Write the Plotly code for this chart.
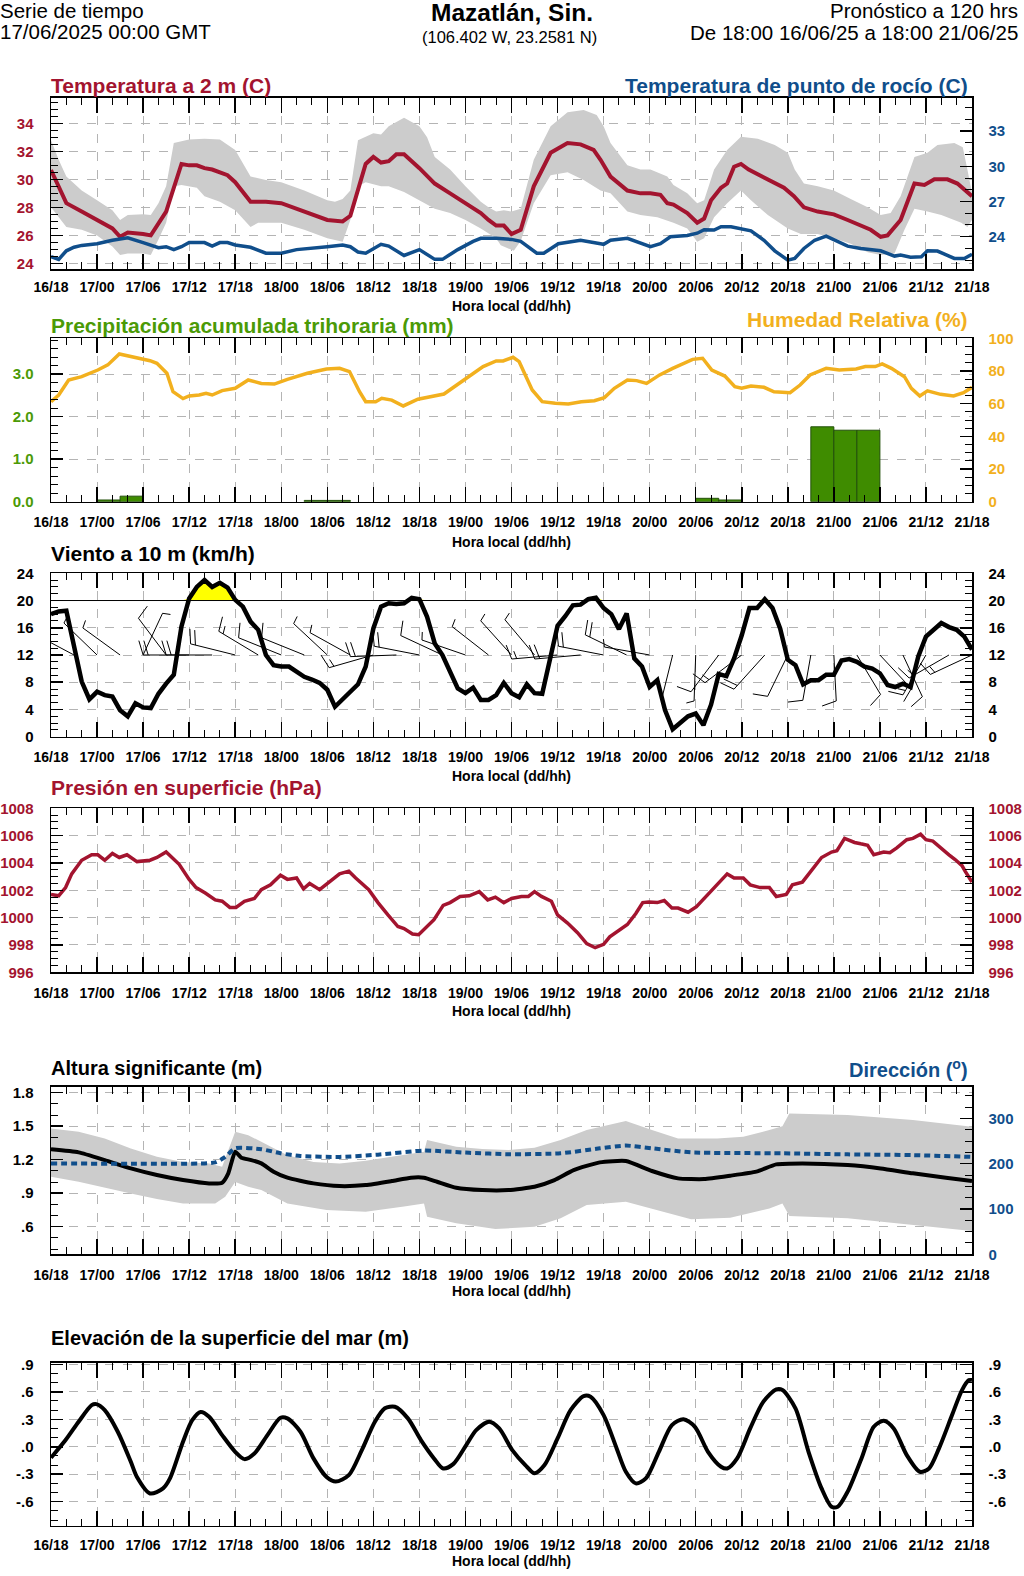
import numpy as np
import plotly.graph_objects as go

# ---------------- data ----------------
x_tick_hours = list(range(0, 121, 6))
x_tick_labels = ["16/18", "17/00", "17/06", "17/12", "17/18", "18/00", "18/06", "18/12", "18/18",
                 "19/00", "19/06", "19/12", "19/18", "20/00", "20/06", "20/12", "20/18",
                 "21/00", "21/06", "21/12", "21/18"]

# Temperature (C), hours since 16/18
temp_hours = [0, 2, 4, 6, 8, 9, 10, 12, 13, 15, 16, 17, 18, 19, 20, 21, 23, 24, 26, 28, 30, 36, 38, 39,
              41, 42, 43, 44, 45, 46, 48, 50, 52, 54, 56, 57, 58, 59, 60, 61.2, 62.9, 65.1, 67.3, 69,
              70.7, 71.6, 72.9, 75.1, 76.8, 78.1, 79.4, 80.3, 81.1, 82.9, 84.2, 85.1, 86, 87.3, 88.1,
              89, 89.9, 90.9, 92.9, 95.5, 96.8, 98.1, 99.9, 102, 103.8, 105.5, 106.8, 108.1, 109,
              110.7, 112.5, 113.8, 115.1, 116.8, 118.1, 120]
temp_vals = [30.67, 28.3, 27.7, 27.1, 26.5, 25.9, 26.2, 26.1, 26.0, 27.7, 29.5, 31.1, 31.0, 31.0, 30.8,
             30.7, 30.3, 29.8, 28.4, 28.4, 28.3, 27.1, 27.0, 27.4, 31.1, 31.6, 31.2, 31.3, 31.8, 31.8,
             30.8, 29.7, 29.0, 28.3, 27.6, 27.1, 26.7, 26.7, 26.1, 26.4, 29.5, 31.9, 32.6, 32.5, 32.1,
             31.4, 30.2, 29.2, 29.0, 29.0, 28.9, 28.3, 28.2, 27.6, 26.9, 27.2, 28.5, 29.4, 29.7, 30.9,
             31.1, 30.7, 30.1, 29.4, 28.8, 28.0, 27.7, 27.5, 27.1, 26.7, 26.4, 25.9, 26.0, 27.1, 29.7,
             29.6, 30.0, 30.0, 29.7, 28.8]

temp_up_hours = [0, 1, 2, 4, 6, 8, 9, 10, 12, 13, 14, 15, 16, 17, 18, 20, 22, 24, 26, 28, 30, 33, 36, 37,
                 38, 39, 40, 42, 43, 44, 46, 48, 49, 50, 52, 54, 56, 57, 58, 59, 60, 61.2, 62.9, 65.1,
                 67.3, 69.4, 71.1, 72, 72.9, 75.1, 76.8, 78.1, 80.3, 81.1, 82.9, 84.2, 85.1, 86.4, 88.1,
                 89.9, 92.1, 94.3, 96, 96.9, 98.1, 99.9, 102, 104.2, 106.4, 108.1, 109.4, 110.7, 112.5,
                 114.2, 115.5, 117.7, 118.8, 119.4, 120]
temp_up_vals = [32.8, 31.4, 30.2, 29.2, 28.5, 27.8, 27.1, 27.45, 27.5, 27.45, 28.3, 29.5, 32.6, 32.7,
                32.85, 32.9, 32.85, 32.1, 30.2, 29.95, 29.8, 29.2, 28.5, 28.4, 28.6, 29.2, 32.8, 33.3,
                33.2, 33.8, 34.4, 33.8, 33.0, 31.6, 30.7, 29.5, 28.4, 28.0, 27.7, 27.8, 27.7, 27.9, 31.4,
                33.8, 34.8, 34.95, 34.6, 33.8, 32.6, 31.0, 30.7, 30.7, 30.2, 29.6, 29.0, 28.3, 28.5, 30.7,
                32.1, 33.05, 32.9, 32.45, 31.9, 30.7, 29.7, 29.5, 29.2, 28.6, 28.0, 27.45, 27.6, 28.8,
                31.6, 31.9, 32.45, 32.6, 32.3, 30.7, 29.0]
temp_lo_hours = [0, 1, 2, 4, 6, 8, 9, 10, 12, 13, 14, 15, 16, 17, 19, 20, 22, 24, 26, 27, 30, 33, 36, 38,
                 39, 40, 41, 43, 44, 46, 48, 50, 52, 54, 56, 58, 58.6, 60.3, 61.2, 62.9, 65.1, 67.3,
                 69.4, 71.6, 72.9, 75.1, 76.8, 79, 81.1, 82.9, 84.2, 85.1, 86.4, 88.1, 89.9, 91.2, 93.4,
                 96, 97.7, 99.9, 102, 104.2, 106.4, 108.1, 109.9, 111.2, 112.5, 114.2, 116, 118.6, 119.4,
                 120]
temp_lo_vals = [28.0, 27.3, 26.6, 26.4, 26.0, 25.2, 24.6, 24.7, 24.7, 24.6, 25.7, 26.9, 29.5, 29.6, 29.4,
                28.8, 28.4, 27.8, 26.6, 26.9, 26.9, 26.4, 25.8, 25.55, 27.1, 29.5, 29.8, 29.5, 29.5, 29.1,
                28.5, 27.9, 27.6, 27.1, 26.5, 25.8, 25.3, 24.9, 25.6, 28.3, 30.3, 30.5, 29.95, 29.2, 29.0,
                27.7, 27.45, 27.3, 26.9, 26.5, 25.55, 25.8, 27.3, 28.3, 29.2, 28.5, 27.45, 26.5, 26.1,
                26.1, 25.8, 25.4, 24.8, 24.6, 24.7, 26.4, 27.9, 27.7, 27.45, 26.9, 26.6, 27.1]

# Dew point (C), right axis
dew_hours = [0, 1, 2, 3, 4, 6, 8, 10, 12, 14, 15, 16, 17, 18, 20, 21, 22, 23, 24, 26, 28, 30, 32, 34, 36,
             38, 39, 40, 41, 43, 44, 46, 48, 50, 51, 53, 55, 56, 58, 60, 61.2, 63.3, 64.2, 66.1, 69,
             71.6, 72, 72.9, 75.1, 78.1, 79.4, 80.7, 82.9, 84.2, 85.1, 86.4, 87.3, 88.6, 89.9, 91.2,
             92.9, 94.3, 96, 96.9, 98.1, 99.5, 101, 102.5, 103.8, 105.5, 108.1, 109.9, 110.7, 112,
             113.4, 114.2, 115.5, 117.7, 119, 120]
dew_vals = [22.3, 22.07, 22.8, 23.1, 23.26, 23.4, 23.7, 23.9, 23.5, 23.06, 23.15, 22.9, 23.15, 23.5, 23.5,
            23.2, 23.5, 23.5, 23.3, 23.1, 22.6, 22.6, 22.9, 23.0, 23.15, 23.3, 23.15, 22.7, 22.6, 23.35,
            23.2, 22.4, 22.9, 22.07, 22.07, 22.9, 23.6, 23.86, 23.86, 23.77, 23.6, 22.6, 22.6, 23.4, 23.7,
            23.4, 23.35, 23.7, 23.86, 23.15, 23.4, 24.0, 24.1, 24.3, 24.6, 24.57, 24.85, 24.85, 24.7,
            24.5, 23.7, 22.8, 22.0, 22.15, 23.0, 23.7, 24.05, 23.6, 23.2, 23.0, 22.8, 22.35, 22.44,
            22.25, 22.3, 22.8, 22.78, 22.15, 22.15, 22.5]

# Relative humidity (%)
rh_hours = [0, 1.0, 2.3, 4.0, 6.1, 7.4, 8.9, 10.4, 12.9, 13.8, 15.1, 15.9, 17.2, 18.0, 19.3, 20.2, 21.0,
            22.3, 24.0, 25.7, 27.4, 29.1, 30.8, 33.4, 35.9, 37.6, 38.9, 40.2, 41.0, 42.3, 43.1, 44.4,
            45.9, 47.8, 49.5, 51.2, 53.8, 56.3, 58.0, 58.9, 60.2, 61.0, 61.9, 62.7, 64.0, 65.7, 67.4,
            69.1, 70.8, 72.1, 73.4, 75.1, 76.3, 77.6, 79.3, 81.0, 83.6, 84.9, 86.1, 87.8, 89.1, 90.0,
            91.2, 92.9, 94.2, 96.3, 97.6, 98.9, 101.0, 102.7, 104.9, 106.1, 107.4, 108.3, 109.5, 111.2,
            112.1, 113.2, 114.2, 115.9, 117.6, 118.9, 120]
rh_vals = [61.2, 65.3, 74.5, 76.5, 80.6, 83.7, 90.4, 88.8, 86.3, 84.7, 78.6, 67.3, 63.1, 64.7, 65.3, 66.3,
           65.3, 68.0, 69.4, 74.5, 72.4, 72.0, 74.9, 78.6, 81.2, 81.6, 79.6, 67.3, 61.2, 61.2, 63.3, 62.2,
           58.6, 62.7, 64.3, 65.9, 74.5, 82.7, 86.1, 86.1, 88.4, 85.7, 76.5, 68.4, 61.2, 60.2, 59.8, 61.2,
           61.8, 63.7, 69.4, 74.5, 74.1, 72.4, 77.6, 81.6, 87.1, 87.8, 80.6, 76.9, 70.4, 69.4, 70.8, 70.0,
           67.3, 66.7, 71.4, 77.6, 81.6, 80.6, 81.2, 82.7, 82.7, 84.3, 81.6, 76.5, 69.4, 64.7, 67.8, 65.7,
           64.7, 66.7, 70.0]

# 3-hourly accumulated precipitation (mm), bin centres
precip_hours = [7.5, 10.5, 34.5, 37.5, 85.5, 88.5, 100.5, 103.5, 106.5]
precip_vals = [0.04, 0.13, 0.03, 0.03, 0.08, 0.04, 1.76, 1.68, 1.68]

# Wind speed (km/h), hourly
wind_hours = list(range(0, 121))
wind_vals = [18.0, 18.4, 18.5, 13.2, 8.1, 5.5, 6.6, 6.1, 5.9, 3.9, 3.0, 4.9, 4.3, 4.2, 6.3, 7.8, 9.1, 16.2,
             20.3, 22.0, 23.0, 22.0, 22.6, 21.9, 20.1, 19.1, 16.9, 15.7, 12.0, 10.5, 10.3, 10.3, 9.5, 8.8,
             8.4, 7.9, 6.9, 4.4, 5.5, 6.6, 7.7, 10.3, 15.9, 19.1, 19.6, 19.5, 19.6, 20.4, 20.2, 17.6, 13.7,
             12.0, 9.5, 7.1, 6.4, 7.2, 5.4, 5.4, 6.1, 7.9, 6.4, 5.8, 7.7, 6.4, 6.3, 11.5, 16.3, 17.7, 19.3,
             19.4, 20.2, 20.4, 18.9, 18.0, 15.8, 18.1, 11.5, 10.3, 7.3, 8.3, 3.9, 1.1, 2.1, 3.0, 3.4, 1.7,
             4.7, 9.2, 8.9, 11.5, 14.9, 18.9, 18.9, 20.2, 18.9, 15.9, 11.3, 10.5, 7.7, 8.3, 8.3, 9.1, 9.1,
             11.2, 11.4, 11.0, 10.3, 10.0, 9.3, 7.6, 7.3, 7.8, 7.3, 11.8, 14.7, 15.8, 16.7, 16.1, 15.7,
             14.7, 12.8]
# Wind direction (deg, from) for the 3-hourly barbs
barb_hours = list(range(0, 121, 3))
barb_dirs = [300, 298, 314, 306, 25, 323, 270, 270, 284, 301, 292, 292, 313, 299, 254, 268, 281, 295,
             289, 308, 318, 320, 265, 265, 281, 296, 280, 194, 182, 217, 233, 222, 206, 190, 177, 149,
             137, 155, 210, 240, 245]

# Surface pressure (hPa)
pres_hours = [0, 1, 1.9, 2.7, 4, 5.3, 6.1, 7, 8, 8.9, 9.9, 11.2, 12.9, 13.8, 15, 16.7, 18, 18.9, 20.1,
              21.4, 22.3, 23.3, 24.1, 25.2, 26.5, 27.4, 28.6, 29.9, 30.8, 32, 32.9, 33.7, 35, 36.3, 37.6,
              38.8, 39.7, 41.4, 42.6, 43.9, 45.2, 46, 47.1, 47.9, 49, 49.9, 51.1, 52, 53.3, 54.5, 55.8,
              56.9, 57.9, 59, 60, 61.3, 62.2, 63, 63.9, 65.2, 66, 67.3, 68.6, 69.8, 70.9, 72, 72.8, 74.1,
              75.1, 76.2, 77.1, 77.9, 79, 79.9, 80.9, 81.7, 83, 84.1, 85.1, 86.8, 88.1, 89, 90.2, 91.1,
              92.4, 93.6, 94.5, 95.8, 96.6, 97.9, 99.2, 100.4, 101.7, 102.4, 103.4, 104.7, 105.5, 106.4,
              107.2, 108.5, 109.3, 110.2, 111.5, 112.3, 113.3, 114, 114.9, 116.1, 117, 117.8, 118.7,
              119.1, 120]
pres_vals = [1001.7, 1001.6, 1002.2, 1003.2, 1004.2, 1004.6, 1004.6, 1004.2, 1004.7, 1004.4, 1004.6,
             1004.1, 1004.2, 1004.4, 1004.8, 1003.9, 1002.8, 1002.2, 1001.8, 1001.3, 1001.2, 1000.75,
             1000.75, 1001.2, 1001.4, 1002.05, 1002.4, 1003.1, 1002.8, 1002.9, 1002.1, 1002.5, 1002.05,
             1002.6, 1003.2, 1003.4, 1002.9, 1002.05, 1001.1, 1000.2, 999.35, 999.2, 998.8, 998.75, 999.35,
             999.85, 1000.9, 1001.1, 1001.55, 1001.6, 1001.9, 1001.3, 1001.5, 1001.1, 1001.4, 1001.55,
             1001.55, 1001.9, 1001.55, 1001.2, 1000.2, 999.6, 998.9, 998.1, 997.8, 998.05, 998.6, 999.1,
             999.5, 1000.3, 1001.1, 1001.15, 1001.1, 1001.25, 1000.7, 1000.7, 1000.4, 1000.8, 1001.4,
             1002.4, 1003.2, 1002.9, 1002.9, 1002.4, 1002.2, 1002.2, 1001.55, 1001.7, 1002.4, 1002.6,
             1003.5, 1004.4, 1004.8, 1004.9, 1005.8, 1005.5, 1005.4, 1005.3, 1004.6, 1004.8, 1004.75,
             1005.1, 1005.7, 1005.8, 1006.1, 1005.7, 1005.6, 1005.0, 1004.6, 1004.25, 1003.8, 1003.4,
             1002.6]

# Significant wave height (m) and envelope
wave_hours = [0, 3.6, 7, 10.4, 13.8, 17.2, 20.6, 22.3, 23.1, 24, 24.8, 26.1, 27.4, 29, 30.8, 34.2, 37.6,
              41, 44.4, 46.9, 48.6, 50.3, 52.8, 56.2, 59.6, 63, 65.6, 68.1, 71.5, 74.9, 78.3, 81.7, 85.1,
              88.5, 91.9, 94.5, 97.9, 103.8, 108.1, 112.3, 116.6, 120]
wave_vals = [1.293, 1.266, 1.197, 1.122, 1.063, 1.018, 0.988, 0.994, 1.078, 1.272, 1.218, 1.197, 1.167,
             1.093, 1.039, 0.988, 0.964, 0.973, 1.009, 1.039, 1.039, 1.003, 0.949, 0.928, 0.928, 0.958,
             1.018, 1.107, 1.176, 1.188, 1.099, 1.033, 1.027, 1.057, 1.093, 1.158, 1.167, 1.152, 1.122,
             1.078, 1.039, 1.009]
wave_up_hours = [0, 3.6, 7, 10.4, 13.8, 17.2, 20.6, 22.3, 24, 25.7, 27.4, 30.8, 34.2, 37.6, 41, 46, 48.6,
                 49, 52.8, 56.2, 59.6, 63, 66.4, 69.8, 74.9, 78.3, 81.7, 86.8, 90.2, 93.6, 95.3, 96.2,
                 103.8, 112.3, 120]
wave_up_vals = [1.48, 1.45, 1.39, 1.30, 1.227, 1.18, 1.167, 1.137, 1.45, 1.42, 1.36, 1.24, 1.18, 1.167,
                1.19, 1.24, 1.272, 1.376, 1.316, 1.295, 1.286, 1.307, 1.376, 1.466, 1.546, 1.466, 1.39,
                1.39, 1.406, 1.466, 1.5, 1.615, 1.6, 1.555, 1.495]
wave_lo_hours = [0, 3.6, 7, 10.4, 13.8, 17.2, 21.4, 22.7, 24, 25.7, 27.4, 30.8, 35.9, 41, 46, 48.6, 49,
                 52.8, 57.9, 63, 66.4, 69.8, 74.9, 78.3, 83.4, 88.5, 93.6, 95.3, 96.2, 103.8, 112.3, 120]
wave_lo_vals = [1.048, 1.003, 0.95, 0.898, 0.848, 0.809, 0.809, 0.869, 1.0, 0.958, 0.928, 0.809, 0.75,
                0.734, 0.78, 0.809, 0.69, 0.63, 0.579, 0.6, 0.675, 0.794, 0.824, 0.764, 0.666, 0.68,
                0.764, 0.809, 0.695, 0.675, 0.615, 0.561]
# Wave direction (deg)
wdir_hours = [0, 10.4, 21.4, 22.7, 24, 27.4, 29.9, 32.5, 37.6, 42.6, 48.6, 54.5, 59.6, 66.4, 71.5, 74.9,
              78.3, 83.4, 95.3, 103.8, 112.3, 120]
wdir_vals = [200.7, 200, 203, 215, 234, 232, 223, 217, 215, 220, 229, 224, 221, 223, 234, 240, 234, 225,
             223, 220.6, 219, 215]

# Sea surface elevation (m)
sea_hours = [0, 1.9, 3.6, 5.3, 5.9, 7, 8.7, 10.4, 11.2, 12.9, 14.6, 15.5, 17.2, 18.4, 19.5, 20.6, 22.3,
             24, 25.2, 26.5, 28.2, 29.9, 30.8, 32.5, 34.2, 35.9, 37.1, 38.8, 40.5, 42.2, 43.5, 44.8, 46.5,
             48.2, 49.9, 51.1, 52.4, 54.1, 55.4, 57.1, 58.4, 60.1, 61.8, 63, 64.3, 66, 67.7, 69.4, 70.3,
             72, 73.7, 74.9, 76.2, 77.5, 79.2, 80.9, 82.4, 83.9, 85.6, 87.3, 88.1, 89.4, 91.1, 92.8,
             94.5, 95.3, 97, 98.7, 100.4, 101.7, 102.5, 103.8, 105.6, 107.2, 108.5, 109.8, 111.5, 113.2,
             114.4, 115.7, 117.4, 118.7, 119.6, 120]
sea_vals = [-0.12, 0.073, 0.273, 0.455, 0.466, 0.40, 0.164, -0.164, -0.33, -0.51, -0.455, -0.346, 0.055,
            0.29, 0.38, 0.328, 0.127, -0.055, -0.135, -0.073, 0.127, 0.317, 0.31, 0.164, -0.127, -0.33,
            -0.38, -0.31, -0.036, 0.273, 0.42, 0.437, 0.31, 0.073, -0.127, -0.237, -0.19, 0.018, 0.182,
            0.273, 0.2, -0.036, -0.2, -0.29, -0.2, 0.091, 0.40, 0.553, 0.546, 0.346, -0.018, -0.273,
            -0.4, -0.346, -0.055, 0.237, 0.3, 0.218, -0.055, -0.218, -0.237, -0.127, 0.2, 0.49, 0.626,
            0.619, 0.419, -0.055, -0.455, -0.655, -0.655, -0.49, -0.127, 0.218, 0.284, 0.2, -0.091,
            -0.273, -0.237, -0.018, 0.346, 0.619, 0.728, 0.728]

# Tick labels of the y axes
t1_left = ["24", "26", "28", "30", "32", "34"]
t1_right = ["24", "27", "30", "33"]
t2_left = ["0.0", "1.0", "2.0", "3.0"]
t2_right = ["0", "20", "40", "60", "80", "100"]
t3_labels = ["0", "4", "8", "12", "16", "20", "24"]
t4_labels = ["996", "998", "1000", "1002", "1004", "1006", "1008"]
t5_left = [".6", ".9", "1.2", "1.5", "1.8"]
t5_right = ["0", "100", "200", "300"]
t6_labels = ["-.6", "-.3", ".0", ".3", ".6", ".9"]

# ---------------- styling / layout ----------------
W, H = 1024, 1576
XL, XR = 51, 972
FONT = "Liberation Sans, Arial, Helvetica, sans-serif"
RED = "#a3142f"
BLUE = "#104e8b"
GREEN = "#4b9a06"
ORANGE = "#f2b01e"
GRAY = "#cccccc"

panels_px = [(97.7, 269), (338.3, 501.7), (573.3, 736.7), (808.3, 972.3), (1086.7, 1254.3), (1362.7, 1525.7)]
x_standoff = [5, 7, 7, 7, 7, 6]
hora_y = [306, 542, 776, 1011, 1291, 1561]


def py(y):
    return 1 - y / H


fig = go.Figure()


def ax(i):
    return "" if i == 1 else str(i)


left_specs = [
    ([23.6, 35.83], [24, 26, 28, 30, 32, 34], t1_left, np.arange(24, 35.8, 0.5), RED),
    ([0, 3.84], [0, 1, 2, 3], t2_left, np.arange(0, 3.85, 0.2), GREEN),
    ([0, 24], [0, 4, 8, 12, 16, 20, 24], t3_labels, np.arange(0, 24.1, 1), "black"),
    ([996, 1008], [996, 998, 1000, 1002, 1004, 1006, 1008], t4_labels, np.arange(996, 1008.1, 0.5), RED),
    ([0.353, 1.854], [0.6, 0.9, 1.2, 1.5, 1.8], t5_left, np.arange(0.4, 1.85, 0.1), "black"),
    ([-0.862, 0.918], [-0.6, -0.3, 0.0, 0.3, 0.6, 0.9], t6_labels, np.arange(-0.8, 0.91, 0.1), "black"),
]
right_specs = [
    ([21.25, 35.84], [24, 27, 30, 33], t1_right, np.arange(22, 35.9, 1), BLUE),
    ([0, 100], [0, 20, 40, 60, 80, 100], t2_right, np.arange(0, 101, 5), ORANGE),
    ([0, 24], [0, 4, 8, 12, 16, 20, 24], t3_labels, np.arange(0, 24.1, 1), "black"),
    ([996, 1008], [996, 998, 1000, 1002, 1004, 1006, 1008], t4_labels, np.arange(996, 1008.1, 0.5), RED),
    ([0, 370], [0, 100, 200, 300], t5_right, np.arange(0, 371, 25), BLUE),
    ([-0.862, 0.918], [-0.6, -0.3, 0.0, 0.3, 0.6, 0.9], t6_labels, np.arange(-0.8, 0.91, 0.1), "black"),
]

layout = {}
for i in range(1, 7):
    top, bot = panels_px[i - 1]
    dom_y = [py(bot), py(top)]
    fs = 15
    layout["xaxis" + ax(i)] = dict(
        domain=[XL / W, XR / W], anchor="y" + ax(i), range=[0, 120], automargin=False,
        tickmode="array", tickvals=x_tick_hours, ticktext=x_tick_labels,
        ticks="inside", ticklen=15, tickwidth=1.5, tickcolor="black",
        minor=dict(ticks="inside", ticklen=7, tickwidth=1, tickcolor="black",
                   tickmode="array", tickvals=list(range(0, 121, 2)), showgrid=False),
        showline=True, linecolor="black", linewidth=1.5, mirror="ticks",
        showgrid=True, gridcolor="#b4b4b4", griddash="dash", gridwidth=1, zeroline=False,
        tickfont=dict(family=FONT, size=14, color="black", weight="bold"),
        ticklabelstandoff=x_standoff[i - 1],
    )
    rng, tv, tt, mv, col = left_specs[i - 1]
    layout["yaxis" + ax(i)] = dict(
        domain=dom_y, anchor="x" + ax(i), range=rng, tickmode="array", tickvals=tv, ticktext=tt,
        automargin=False,
        ticks="inside", ticklen=12, tickwidth=1.5, tickcolor="black",
        minor=dict(ticks="inside", ticklen=7, tickwidth=1, tickcolor="black",
                   tickmode="array", tickvals=list(mv), showgrid=False),
        showline=True, linecolor="black", linewidth=1.5, mirror=False,
        showgrid=True, gridcolor="#b4b4b4", griddash="dash", gridwidth=1, zeroline=False,
        tickfont=dict(family=FONT, size=fs, color=col, weight="bold"),
        ticklabelstandoff=13,
    )
    rng, tv, tt, mv, col = right_specs[i - 1]
    layout["yaxis" + str(i + 6)] = dict(
        overlaying="y" + ax(i), side="right", anchor="x" + ax(i), range=rng, automargin=False,
        tickmode="array", tickvals=tv, ticktext=tt,
        ticks="inside", ticklen=12, tickwidth=1.5, tickcolor="black",
        minor=dict(ticks="inside", ticklen=7, tickwidth=1, tickcolor="black",
                   tickmode="array", tickvals=list(mv), showgrid=False),
        showline=True, linecolor="black", linewidth=1.5, showgrid=False, zeroline=False,
        tickfont=dict(family=FONT, size=fs, color=col, weight="bold"),
        ticklabelstandoff=12,
    )


# ---------------- traces ----------------
def S(**kw):
    kw.setdefault("showlegend", False)
    kw.setdefault("hoverinfo", "skip")
    return go.Scatter(**kw)


# Panel 1
fig.add_trace(S(x=temp_up_hours + temp_lo_hours[::-1], y=temp_up_vals + temp_lo_vals[::-1],
                fill="toself", fillcolor=GRAY, line=dict(width=0), mode="lines", xaxis="x", yaxis="y"))
fig.add_trace(S(x=temp_hours, y=temp_vals, mode="lines", line=dict(color=RED, width=4), xaxis="x", yaxis="y"))
fig.add_trace(S(x=dew_hours, y=dew_vals, mode="lines", line=dict(color=BLUE, width=3.5), xaxis="x", yaxis="y7"))

# Panel 2
fig.add_trace(go.Bar(x=precip_hours, y=precip_vals, width=3, marker=dict(color="#3f8c00",
                     line=dict(color="#23500a", width=1)), xaxis="x2", yaxis="y2",
                     showlegend=False, hoverinfo="skip"))
fig.add_trace(S(x=rh_hours, y=rh_vals, mode="lines", line=dict(color=ORANGE, width=3.5), xaxis="x2", yaxis="y8"))

# Panel 3: wind
wind_arr = np.array(wind_vals)
fig.add_trace(S(x=wind_hours, y=[20] * len(wind_hours), mode="lines", line=dict(width=0),
                xaxis="x3", yaxis="y3"))
fig.add_trace(S(x=wind_hours, y=np.maximum(wind_arr, 20), mode="lines", line=dict(width=0),
                fill="tonexty", fillcolor="#ffff00", xaxis="x3", yaxis="y3"))

PPX = (XR - XL) / 120.0
PPY = (panels_px[2][1] - panels_px[2][0]) / 24.0
L = 46.0
bx, byy = [], []
for h, d in zip(barb_hours, barb_dirs):
    s = wind_vals[wind_hours.index(h)]
    r = np.deg2rad(d)
    ux, uy = np.sin(r), np.cos(r)
    bx += [h, h + ux * L / PPX, None]
    byy += [12, 12 + uy * L / PPY, None]
    rr = int(round(s / 5.0)) * 5
    nfull, half = rr // 10, (rr % 10) == 5
    tx, ty = uy + 0.3 * ux, -ux + 0.3 * uy
    nrm = np.hypot(tx, ty)
    tx, ty = tx / nrm, ty / nrm
    pos = 0.0
    for k in range(nfull):
        ox, oy = ux * (L - pos), uy * (L - pos)
        bx += [h + ox / PPX, h + (ox + tx * 15) / PPX, None]
        byy += [12 + oy / PPY, 12 + (oy + ty * 15) / PPY, None]
        pos += 5
    if half:
        ox, oy = ux * (L - pos), uy * (L - pos)
        bx += [h + ox / PPX, h + (ox + tx * 8) / PPX, None]
        byy += [12 + oy / PPY, 12 + (oy + ty * 8) / PPY, None]
fig.add_trace(S(x=bx, y=byy, mode="lines", line=dict(color="black", width=1), xaxis="x3", yaxis="y9"))
fig.add_trace(S(x=wind_hours, y=wind_vals, mode="lines", line=dict(color="black", width=4.5),
                xaxis="x3", yaxis="y9"))

# Panel 4: pressure
fig.add_trace(S(x=pres_hours, y=pres_vals, mode="lines", line=dict(color=RED, width=3.5), xaxis="x4", yaxis="y4"))
fig.add_trace(S(x=[0], y=[None], mode="lines", xaxis="x4", yaxis="y10"))

# Panel 5: waves
fig.add_trace(S(x=wave_up_hours + wave_lo_hours[::-1], y=wave_up_vals + wave_lo_vals[::-1],
                fill="toself", fillcolor=GRAY, line=dict(width=0), mode="lines", xaxis="x5", yaxis="y5"))
fig.add_trace(S(x=wave_hours, y=wave_vals, mode="lines",
                line=dict(color="black", width=4, shape="spline", smoothing=0.5),
                xaxis="x5", yaxis="y5"))
fig.add_trace(S(x=wdir_hours, y=wdir_vals, mode="lines",
                line=dict(color=BLUE, width=4, dash="6px,4px", shape="spline", smoothing=0.6),
                xaxis="x5", yaxis="y11"))

# Panel 6: sea level
fig.add_trace(S(x=sea_hours, y=sea_vals, mode="lines",
                line=dict(color="black", width=4, shape="spline", smoothing=0.8),
                xaxis="x6", yaxis="y6"))
fig.add_trace(S(x=[0], y=[None], mode="lines", xaxis="x6", yaxis="y12"))

# ---------------- text ----------------
ann = []


def A(text, x, y, size, color="black", xanchor="left", bold=False):
    ann.append(dict(text=("<b>%s</b>" % text) if bold else text, x=x / W, y=py(y), xref="paper", yref="paper",
                    xanchor=xanchor, yanchor="middle", showarrow=False,
                    font=dict(family=FONT, size=size, color=color)))


A("Serie de tiempo", -2, 10, 20.5)
A("17/06/2025 00:00 GMT", -2, 31, 20.5)
A("Mazatlán, Sin.", 512, 13, 24.5, bold=True, xanchor="center")
A("(106.402 W, 23.2581 N)", 509, 37, 16.5, xanchor="center")
A("Pronóstico a 120 hrs", 1020, 10, 20.5, xanchor="right")
A("De 18:00 16/06/25 a 18:00 21/06/25", 1020, 33, 20.5, xanchor="right")

A("Temperatura a 2 m (C)", 49, 85, 21, RED, bold=True)
A("Temperatura de punto de rocío (C)", 970, 85, 21, BLUE, xanchor="right", bold=True)
A("Precipitación acumulada trihoraria (mm)", 49, 325, 21, GREEN, bold=True)
A("Humedad Relativa (%)", 970, 319, 21, ORANGE, xanchor="right", bold=True)
A("Viento a 10 m (km/h)", 49, 553, 21, "black", bold=True)
A("Presión en superficie (hPa)", 49, 787, 21, RED, bold=True)
A("Altura significante (m)", 49, 1068, 20, "black", bold=True)
A("Dirección (<sup>o</sup>)", 970, 1068, 20, BLUE, xanchor="right", bold=True)
A("Elevación de la superficie del mar (m)", 49, 1338, 20, "black", bold=True)

for yy in hora_y:
    A("Hora local (dd/hh)", (XL + XR) / 2, yy, 14, bold=True, xanchor="center")

shapes = [dict(type="line", xref="x3 domain", yref="y3", x0=0, x1=1, y0=20, y1=20,
               line=dict(color="black", width=1))]

fig.update_layout(**layout)
fig.update_layout(width=W, height=H, margin=dict(l=0, r=0, t=0, b=0, autoexpand=False),
                  paper_bgcolor="white", plot_bgcolor="white",
                  annotations=ann, shapes=shapes, showlegend=False,
                  font=dict(family=FONT, color="black"), barmode="overlay")

fig.write_html("out.html", config={"displayModeBar": False, "staticPlot": True},
               post_script="document.body.style.margin='0';document.body.style.padding='0';"
                           "document.documentElement.style.overflow='hidden';")
